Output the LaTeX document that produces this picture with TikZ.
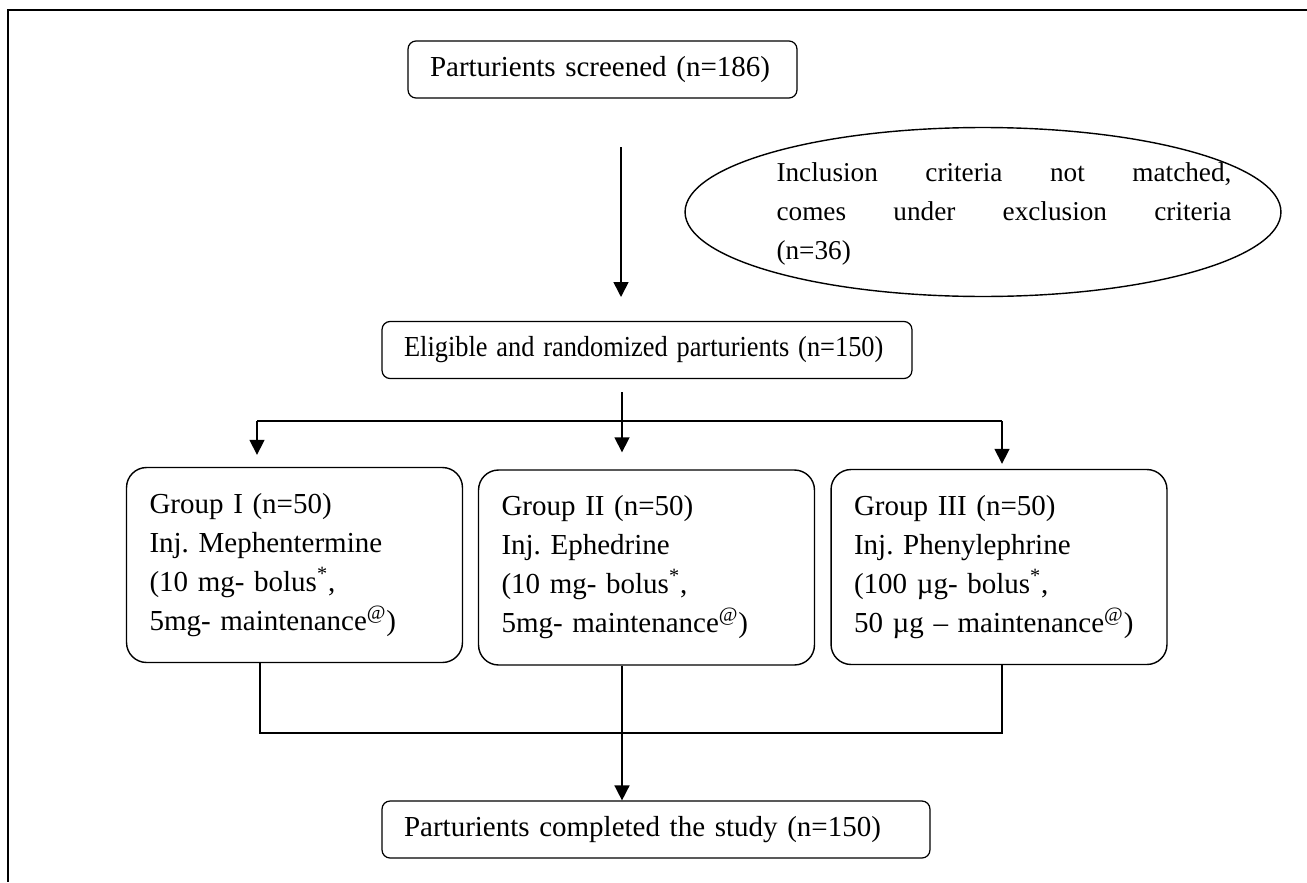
\documentclass[tikz,border=0pt]{standalone}
\usepackage{graphicx}
\usepackage{fontspec}
\setmainfont{Liberation Serif}
\usetikzlibrary{arrows.meta,shapes.geometric,positioning}
\frenchspacing

\begin{document}
\begin{tikzpicture}[x=0.02cm,y=-0.02cm]
\tikzstyle{box} = [
	shape=rectangle,
	draw=black, %border of the box
	line width=0.7pt,
	rounded corners=0.16cm,
	align=left,
	inner xsep=0.44cm,
	minimum height=1.14cm,
	font=\fontsize{16.5}{22.2}\selectfont
];
\tikzstyle{group} = [
	shape=rectangle,
	draw=black,
	line width=0.8pt,
	rounded corners=0.4cm,
	align=left,
	text width=5.8cm, %room for the longest dose line
	inner xsep=0.46cm,
	minimum height=3.9cm,
	font=\fontsize{16.5}{22.2}\selectfont
];
\tikzstyle{excl} = [
	shape=ellipse,
	draw=black,
	line width=0.8pt,
	minimum width=11.92cm,
	minimum height=3.38cm,
	inner sep=0pt
];
\tikzstyle{excltext} = [
	align=justify,
	text width=9.1cm,
	inner sep=0pt,
	font=\fontsize{15.5}{22.2}\selectfont
];
\tikzstyle{arr} = [-{Triangle[length=3mm,width=3mm]}, line width=0.9pt];
\tikzstyle{line} = [line width=0.9pt];

\useasboundingbox (0,0) rectangle (1307,882);

%frame
\draw[line width=1.1pt] (1307,10) -- (8,10) -- (8,882);

%boxes
\node[box, text width=6.9cm] (scr) at (602.5,69.5) {Parturients screened (n=186)};
\node[box, text width=9.72cm] (elig) at (647,350) {\scalebox{0.91}[1]{Eligible and randomized parturients (n=150)}};
\node[box, text width=10.08cm] (done) at (656,829.5) {Parturients completed the study (n=150)};

%excluded
\node[excl] (exc) at (983,212) {};
\node[excltext] (exctext) at (1004,214) {Inclusion criteria not matched,\linebreak comes under exclusion criteria\linebreak (n=36)};

%groups
\node[group] (g1) at (294.5,565) {Group I (n=50)\\Inj. Mephentermine\\(10 mg- bolus\textsuperscript{*},\\5mg- maintenance\textsuperscript{@})};
\node[group] (g2) at (646.5,567.5) {Group II (n=50)\\Inj. Ephedrine\\(10 mg- bolus\textsuperscript{*},\\5mg- maintenance\textsuperscript{@})};
\node[group] (g3) at (999,567) {Group III (n=50)\\Inj. Phenylephrine\\(100 µg- bolus\textsuperscript{*},\\50 µg – maintenance\textsuperscript{@})};

%screened to eligible
\coordinate (a1s) at (621,147);
\coordinate (a1e) at (621,297);
\draw[arr] (a1s) -- (a1e);

%randomisation
\coordinate (sp) at (622,392);
\coordinate (spl) at (257,421);
\coordinate (spr) at (1002,421);
\draw[line] (spl) -- (spr);
\draw[arr, shorten >=0.34cm] (sp) -- (sp |- g2.north);
\draw[arr, shorten >=0.24cm] (spl) -- (spl |- g1.north);
\draw[arr, shorten >=0.1cm] (spr) -- (spr |- g3.north);

%groups to completed
\coordinate (j1) at (260,733);
\coordinate (j3) at (1002,733);
\coordinate (jm) at (622,733);
\draw[line] (j1 |- g1.south) -- (j1) -- (j3) -- (j3 |- g3.south);
\draw[arr] (jm |- g2.south) -- (jm |- done.north);

\end{tikzpicture}
\end{document}
